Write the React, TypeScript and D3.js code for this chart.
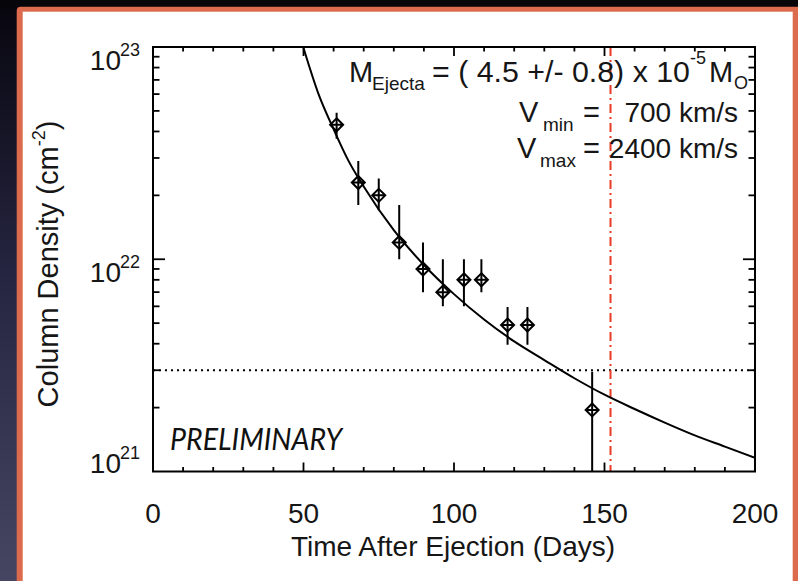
import React from "react";
import * as d3 from "d3";

// ---- data ----
const obsDays = [61.0, 68.2, 75.0, 81.8, 89.7, 96.3, 103.3, 109.1, 117.8, 124.4, 145.9];
const obsValues = [4.3e22, 2.3e22, 2.0e22, 1.2e22, 9.0e21, 7.0e21, 8.0e21, 8.0e21, 4.9e21, 4.9e21, 1.95e21];
const obsLow = [3.7e22, 1.8e22, 1.7e22, 1.0e22, 7.0e21, 6.0e21, 6.0e21, 7.0e21, 3.95e21, 3.95e21, 5e20];
const obsHigh = [4.9e22, 2.9e22, 2.4e22, 1.8e22, 1.2e22, 1.0e22, 1.0e22, 1.0e22, 5.95e21, 5.95e21, 2.95e21];

const fitDays = [50, 55, 60, 65, 70, 80, 90, 100, 110, 120, 130, 140, 150, 160, 170, 180, 190, 200];
const fitValues = [9.9e22, 6.0e22, 4.1e22, 2.9e22, 2.2e22, 1.37e22, 9.4e21, 6.85e21, 5.2e21, 4.1e21, 3.35e21, 2.75e21, 2.3e21, 1.97e21, 1.7e21, 1.48e21, 1.31e21, 1.16e21];

const thresholdValue = 3e21;
const markerDay = 152;

const xTickValues = [0, 50, 100, 150, 200];
const xTickLabels = ["0", "50", "100", "150", "200"];
const yTickValues = [1e23, 1e22, 1e21];
const yTickExponents = ["23", "22", "21"];

const W = 798;
const H = 581;
const L = 153, R = 755, T = 47, B = 471.5;
const FONT = "'Liberation Sans', Arial, Helvetica, sans-serif";
const TXT = "#161616";

export default function App() {
  const x = d3.scaleLinear().domain([0, 200]).range([L, R]);
  const y = d3.scaleLog().domain([1e21, 1e23]).range([B, T]);

  const line = d3
    .line<number>()
    .x((_, i) => x(fitDays[i]))
    .y((d) => y(d))
    .curve(d3.curveMonotoneX);

  const xMinor = d3.range(0, 201, 10);
  const yMinor: number[] = [];
  [1e21, 1e22].forEach((dec) => {
    for (let k = 2; k <= 9; k++) yMinor.push(dec * k);
  });

  const ticks: JSX.Element[] = [];
  xMinor.forEach((d) => {
    const major = d % 50 === 0;
    const len = major ? 9 : 4.5;
    if (d === 0 || d === 200) return;
    ticks.push(<line key={"xb" + d} x1={x(d)} x2={x(d)} y1={B} y2={B - len} />);
    ticks.push(<line key={"xt" + d} x1={x(d)} x2={x(d)} y1={T} y2={T + len} />);
  });
  [...yMinor, 1e22].forEach((v) => {
    const major = v === 1e22;
    const len = major ? 12 : 6.5;
    ticks.push(<line key={"yl" + v} x1={L} x2={L + len} y1={y(v)} y2={y(v)} />);
    ticks.push(<line key={"yr" + v} x1={R} x2={R - len} y1={y(v)} y2={y(v)} />);
  });

  const ds = 6.5;

  return (
    <svg
      width={W}
      height={H}
      viewBox={`0 0 ${W} ${H}`}
      style={{ position: "absolute", left: 0, top: 0, display: "block" }}
    >
      <defs>
        <linearGradient id="bgL" x1="0" y1="0" x2="0" y2="1">
          <stop offset="0" stopColor="#07060e" />
          <stop offset="0.5" stopColor="#272744" />
          <stop offset="1" stopColor="#464663" />
        </linearGradient>
        <clipPath id="plotClip">
          <rect x={L} y={T} width={R - L} height={B - T} />
        </clipPath>
      </defs>

      {/* background frame */}
      <rect x={0} y={0} width={W} height={H} fill="url(#bgL)" />
      <rect x={0} y={0} width={W} height={8} fill="#05050a" />
      <rect x={16.7} y={6.7} width={W} height={H + 10} rx={4} fill="#dc6a4c" />
      <rect x={22.7} y={11.7} width={792.7 - 22.7} height={H} fill="#ffffff" />

      {/* reference lines */}
      <line
        x1={L}
        x2={R}
        y1={y(thresholdValue)}
        y2={y(thresholdValue)}
        stroke="#000"
        strokeWidth={2.2}
        strokeDasharray="2 4"
      />
      <line
        x1={x(markerDay)}
        x2={x(markerDay)}
        y1={T}
        y2={B}
        stroke="#ea3b25"
        strokeWidth={2}
        strokeDasharray="9 4 2 4"
      />

      {/* fit curve and observations */}
      <g clipPath="url(#plotClip)">
        <path d={line(fitValues) || ""} fill="none" stroke="#000" strokeWidth={2} />
        {obsDays.map((d, i) => (
          <line
            key={"e" + i}
            x1={x(d)}
            x2={x(d)}
            y1={y(Math.max(obsLow[i], 1e20))}
            y2={y(obsHigh[i])}
            stroke="#000"
            strokeWidth={2}
          />
        ))}
        {obsDays.map((d, i) => {
          const cx = x(d);
          const cy = y(obsValues[i]);
          return (
            <path
              key={"m" + i}
              d={`M${cx},${cy - ds}L${cx + ds},${cy}L${cx},${cy + ds}L${cx - ds},${cy}Z M${cx - ds},${cy}H${cx + ds}`}
              fill="none"
              stroke="#000"
              strokeWidth={2}
            />
          );
        })}
      </g>

      {/* axes frame */}
      <g stroke="#000" strokeWidth={1.8}>{ticks}</g>
      <rect x={L} y={T} width={R - L} height={B - T} fill="none" stroke="#000" strokeWidth={2} />

      {/* x tick labels */}
      {xTickValues.map((v, i) => (
        <text key={"xl" + v} x={x(v)} y={523} textAnchor="middle" fontFamily={FONT} fontSize={28} fill={TXT}>
          {xTickLabels[i]}
        </text>
      ))}

      {/* y tick labels */}
      {yTickValues.map((v, i) => {
        const base = i === yTickValues.length - 1 ? y(v) + 1 : y(v) + 23;
        return (
          <g key={"yl" + v} fontFamily={FONT} fill={TXT}>
            <text x={121} y={base} textAnchor="end" fontSize={28}>10</text>
            <text x={120} y={base - 14} textAnchor="start" fontSize={18}>{yTickExponents[i]}</text>
          </g>
        );
      })}

      {/* axis titles */}
      <text x={453} y={556} textAnchor="middle" fontFamily={FONT} fontSize={28} fill={TXT}>
        Time After Ejection (Days)
      </text>
      <g transform="translate(58,264) rotate(-90)">
        <text x={0} y={0} textAnchor="middle" fontFamily={FONT} fontSize={29} fill={TXT}>
          Column Density (cm<tspan fontSize={18} dy={-13}>-2</tspan>
          <tspan dy={13}>)</tspan>
        </text>
      </g>

      {/* annotations */}
      <g fontFamily={FONT} fill={TXT}>
        <text x={349} y={82} fontSize={29}>M</text>
        <text x={372} y={90} fontSize={19}>Ejecta</text>
        <text x={432} y={82} fontSize={29} textLength={258} lengthAdjust="spacingAndGlyphs">
          = ( 4.5 +/- 0.8) x 10
        </text>
        <text x={690} y={64} fontSize={18}>-5</text>
        <text x={709} y={82} fontSize={29}>M</text>
        <text x={734} y={89} fontSize={18}>O</text>

        <text x={519} y={122} fontSize={29}>V</text>
        <text x={543} y={131} fontSize={19}>min</text>
        <text x={583} y={122} fontSize={29}>=</text>
        <text x={738} y={122} fontSize={28} textAnchor="end">700 km/s</text>

        <text x={517} y={158} fontSize={29}>V</text>
        <text x={540} y={167} fontSize={19}>max</text>
        <text x={583} y={158} fontSize={29}>=</text>
        <text x={738} y={158} fontSize={28} textAnchor="end">2400 km/s</text>
      </g>

      <text
        x={170}
        y={450}
        fontFamily="Lato, 'Open Sans', sans-serif"
        fontStyle="italic"
        fontSize={30}
        fill="#111"
        textLength={172}
        lengthAdjust="spacingAndGlyphs"
      >
        PRELIMINARY
      </text>
    </svg>
  );
}
